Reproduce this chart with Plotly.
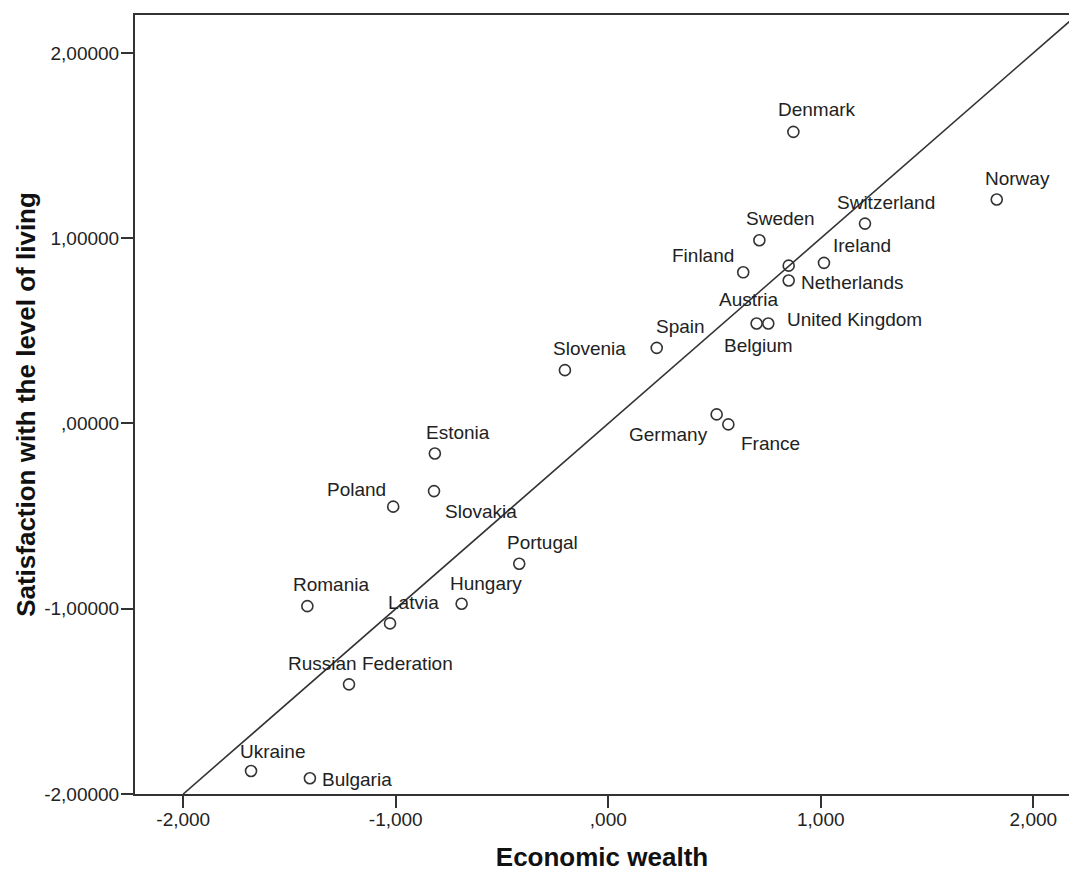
import plotly.graph_objects as go

# Country-level standardized scores
COUNTRIES = ["Denmark", "Norway", "Switzerland", "Sweden", "Ireland", "Finland",
             "Austria", "Netherlands", "Belgium", "United Kingdom", "Spain",
             "Slovenia", "Germany", "France", "Estonia", "Slovakia", "Poland",
             "Portugal", "Hungary", "Romania", "Latvia", "Russian Federation",
             "Ukraine", "Bulgaria"]
ECONOMIC_WEALTH = [0.871, 1.828, 1.208, 0.711, 1.015, 0.635,
                   0.849, 0.849, 0.698, 0.753, 0.228,
                   -0.204, 0.510, 0.565, -0.816, -0.820, -1.012,
                   -0.419, -0.690, -1.416, -1.027, -1.220,
                   -1.681, -1.404]
SATISFACTION = [1.574, 1.209, 1.079, 0.989, 0.867, 0.816,
                0.852, 0.772, 0.540, 0.540, 0.408,
                0.288, 0.049, -0.005, -0.162, -0.365, -0.449,
                -0.757, -0.973, -0.986, -1.079, -1.408,
                -1.876, -1.915]

# Reference line y = x
REF_X = [-2.0, 2.5]
REF_Y = [-2.0, 2.5]

X_TICKS = [-2, -1, 0, 1, 2]
X_TICK_TEXT = ["-2,000", "-1,000", ",000", "1,000", "2,000"]
Y_TICKS = [-2, -1, 0, 1, 2]
Y_TICK_TEXT = ["-2,00000", "-1,00000", ",00000", "1,00000", "2,00000"]

# Pixel offsets of each point label relative to its marker
LABEL_OFFSET = {
    "Denmark": (24, -22), "Norway": (21, -21), "Switzerland": (21, -21),
    "Sweden": (21, -22), "Ireland": (38, -17), "Finland": (-40, -17),
    "Austria": (-40, 34), "Netherlands": (63, 2), "Belgium": (2, 22),
    "United Kingdom": (86, -4), "Spain": (24, -21), "Slovenia": (25, -22),
    "Germany": (-48, 20), "France": (42, 19), "Estonia": (23, -21),
    "Slovakia": (47, 20), "Poland": (-37, -17), "Portugal": (23, -21),
    "Hungary": (24, -20), "Romania": (24, -22), "Latvia": (23, -21),
    "Russian Federation": (21, -21), "Ukraine": (21, -20), "Bulgaria": (47, 1),
}

FONT = "Liberation Sans, Arial, sans-serif"
INK = "#222222"
LINE = "#333333"

fig = go.Figure()

fig.add_trace(go.Scatter(
    x=REF_X, y=REF_Y, mode="lines",
    line=dict(color=LINE, width=1.6),
    hoverinfo="skip", showlegend=False,
))

fig.add_trace(go.Scatter(
    x=ECONOMIC_WEALTH, y=SATISFACTION, mode="markers",
    marker=dict(symbol="circle-open", size=11, color=LINE,
                line=dict(width=1.6, color=LINE)),
    text=COUNTRIES, hoverinfo="text", showlegend=False,
))

annotations = []
for name, xv, yv in zip(COUNTRIES, ECONOMIC_WEALTH, SATISFACTION):
    dx, dy = LABEL_OFFSET[name]
    annotations.append(dict(
        x=xv, y=yv, xref="x", yref="y", text=name,
        showarrow=True, arrowcolor="rgba(0,0,0,0)", arrowwidth=0.1,
        ax=dx, ay=dy, xanchor="center", yanchor="middle",
        font=dict(family=FONT, size=19, color=INK),
    ))

fig.update_layout(
    width=1069, height=872,
    margin=dict(l=135, r=0, t=15, b=78),
    plot_bgcolor="white", paper_bgcolor="white",
    font=dict(family=FONT, size=19, color=INK),
    annotations=annotations,
    xaxis=dict(
        range=[-2.227, 2.168], tickmode="array",
        tickvals=X_TICKS, ticktext=X_TICK_TEXT,
        showgrid=False, zeroline=False,
        showline=True, linecolor=LINE, linewidth=2, mirror=True,
        ticks="outside", ticklen=12, tickwidth=2, tickcolor=LINE,
        ticklabelstandoff=-5,
        tickfont=dict(family=FONT, size=19, color=INK),
        title=dict(text="<b>Economic wealth</b>", standoff=25,
                   font=dict(family=FONT, size=26, color="#111111")),
    ),
    yaxis=dict(
        range=[-2.0, 2.205], tickmode="array",
        tickvals=Y_TICKS, ticktext=Y_TICK_TEXT,
        showgrid=False, zeroline=False,
        showline=True, linecolor=LINE, linewidth=2,
        ticks="outside", ticklen=12, tickwidth=2, tickcolor=LINE,
        ticklabelstandoff=-2,
        tickfont=dict(family=FONT, size=19, color=INK),
        title=dict(text="<b>Satisfaction with the level of living</b>", standoff=1,
                   font=dict(family=FONT, size=26, color="#111111")),
    ),
)

fig.write_html("out.html")
